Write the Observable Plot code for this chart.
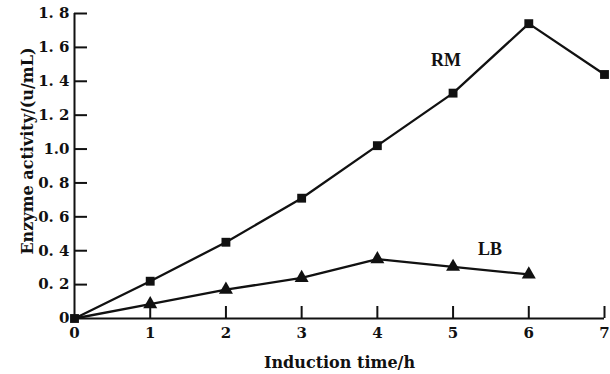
<!DOCTYPE html>
<html>
<head>
<meta charset="utf-8">
<script src="https://cdn.jsdelivr.net/npm/d3@7"></script>
<script src="https://cdn.jsdelivr.net/npm/@observablehq/plot@0.6"></script>
<style>
  html, body { margin: 0; padding: 0; background: #fff; }
  #chart { width: 610px; height: 374px; }
</style>
</head>
<body>
<div id="chart"></div>
<script>
// ---- data ----
const times = [0, 1, 2, 3, 4, 5, 6, 7];
const rmValues = [0, 0.22, 0.45, 0.71, 1.02, 1.33, 1.74, 1.44];
const lbTimes = [0, 1, 2, 3, 4, 5, 6];
const lbValues = [0, 0.085, 0.17, 0.24, 0.35, 0.305, 0.26];
const seriesNames = ["RM", "LB"];
const xTicks = [0, 1, 2, 3, 4, 5, 6, 7];
const xTickLabels = ["0", "1", "2", "3", "4", "5", "6", "7"];
const yTicks = [0, 0.2, 0.4, 0.6, 0.8, 1.0, 1.2, 1.4, 1.6, 1.8];
const yTickLabels = ["0", "0. 2", "0. 4", "0. 6", "0. 8", "1.0", "1. 2", "1. 4", "1. 6", "1. 8"];
const xTitle = "Induction time/h";
const yTitle = "Enzyme activity/(u/mL)";

// ---- build ----
const rm = times.map((t, i) => ({t, v: rmValues[i]}));
const lb = lbTimes.map((t, i) => ({t, v: lbValues[i]}));
const xLab = new Map(xTicks.map((d, i) => [d, xTickLabels[i]]));
const yLab = new Map(yTicks.map((d, i) => [d, yTickLabels[i]]));

const W = 610, H = 374;
const mL = 74, mR = 6, mT = 13, mB = 56;
const plotW = W - mL - mR, plotH = H - mT - mB;
const ink = "#111";

const chart = Plot.plot({
  width: W, height: H,
  marginLeft: mL, marginRight: mR, marginTop: mT, marginBottom: mB,
  x: {domain: [0, 7]},
  y: {domain: [0, 1.8]},
  style: {fontFamily: "'DejaVu Serif', serif", fontSize: "15px", fontWeight: "bold", color: ink, background: "#fff"},
  marks: [
    Plot.axisX(xTicks, {tickSize: 0, tickPadding: 9, tickFormat: d => xLab.get(d), label: null}),
    Plot.axisY(yTicks, {tickSize: 0, tickPadding: 5, tickFormat: d => yLab.get(d), label: null}),
    Plot.tickX(xTicks.filter(d => d > 0), {x: d => d, insetTop: plotH - 12, stroke: ink, strokeWidth: 2}),
    Plot.tickY(yTicks.filter(d => d > 0), {y: d => d, insetRight: plotW - 13, stroke: ink, strokeWidth: 2}),
    Plot.ruleX([0], {stroke: ink, strokeWidth: 2}),
    Plot.ruleY([0], {stroke: ink, strokeWidth: 2}),
    Plot.line(lb, {x: "t", y: "v", stroke: ink, strokeWidth: 2.3}),
    Plot.line(rm, {x: "t", y: "v", stroke: ink, strokeWidth: 2.3}),
    Plot.dot(lb.filter(d => d.t > 0), {x: "t", y: "v", symbol: "triangle", r: 5.2, fill: ink, stroke: null}),
    Plot.dot(rm, {x: "t", y: "v", symbol: "square", r: 5, fill: ink, stroke: null}),
    Plot.text([rm[5]], {x: "t", y: "v", text: () => seriesNames[0], dx: -7, dy: -33, fontFamily: "'Liberation Serif', serif", fontSize: 18, fontWeight: "bold", fill: ink}),
    Plot.text([lb[5]], {x: "t", y: "v", text: () => seriesNames[1], dx: 37, dy: -18, fontFamily: "'Liberation Serif', serif", fontSize: 18, fontWeight: "bold", fill: ink}),
    Plot.text([xTitle], {frameAnchor: "bottom", text: d => d, textAnchor: "middle", lineAnchor: "middle", dy: 44, fontSize: 16, fill: ink}),
    Plot.text([yTitle], {frameAnchor: "left", text: d => d, textAnchor: "middle", lineAnchor: "middle", rotate: -90, dx: -47, dy: -15, fontSize: 16, fill: ink})
  ]
});
document.getElementById("chart").appendChild(chart);
</script>
</body>
</html>
